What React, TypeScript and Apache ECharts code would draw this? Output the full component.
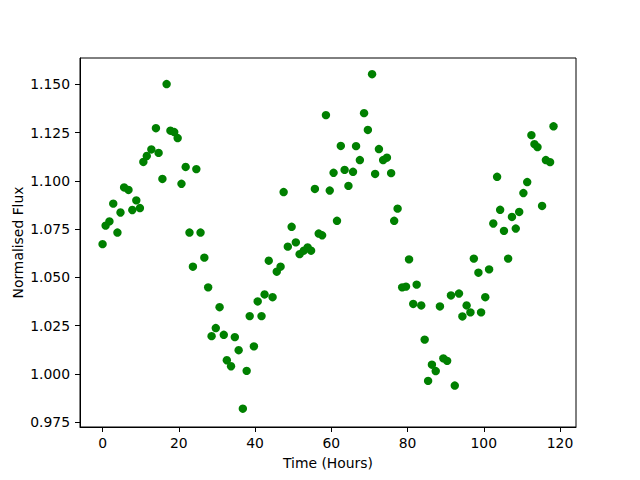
import React, { useEffect, useRef } from "react";
import * as echarts from "echarts";

const timeHours: number[] = [
  0.0, 0.8, 1.8, 2.8, 3.9, 4.7, 5.65, 6.8, 7.8, 8.85, 9.8, 10.7, 11.6, 12.8, 14.0, 14.7, 15.7, 16.8, 17.8, 18.8,
  19.7, 20.7, 21.8, 22.8, 23.7, 24.6, 25.7, 26.7, 27.7, 28.6, 29.7, 30.7, 31.8, 32.6, 33.7, 34.7, 35.7, 36.8, 37.8, 38.6,
  39.7, 40.7, 41.7, 42.5, 43.6, 44.6, 45.7, 46.7, 47.5, 48.6, 49.6, 50.7, 51.7, 52.8, 53.8, 54.7, 55.7, 56.7, 57.6, 58.6,
  59.6, 60.6, 61.5, 62.5, 63.5, 64.5, 65.7, 66.5, 67.5, 68.6, 69.6, 70.7, 71.5, 72.5, 73.6, 74.6, 75.7, 76.5, 77.4, 78.6,
  79.6, 80.4, 81.5, 82.4, 83.6, 84.5, 85.4, 86.4, 87.4, 88.5, 89.4, 90.4, 91.4, 92.4, 93.5, 94.4, 95.5, 96.5, 97.4, 98.6,
  99.3, 100.4, 101.4, 102.5, 103.5, 104.3, 105.3, 106.4, 107.4, 108.4, 109.3, 110.4, 111.4, 112.5, 113.3, 114.1, 115.3,
  116.3, 117.4, 118.3,
];

const normalisedFlux: number[] = [
  1.0672, 1.0768, 1.079, 1.0882, 1.0732, 1.0836, 1.0966, 1.0953, 1.0849, 1.0899, 1.0859, 1.1098, 1.1129, 1.1163, 1.1273,
  1.1145, 1.101, 1.1502, 1.126, 1.1253, 1.1222, 1.0985, 1.1072, 1.0732, 1.0555, 1.1061, 1.0732, 1.0602, 1.0448, 1.0195,
  1.0237, 1.0345, 1.0202, 1.007, 1.0039, 1.019, 1.0122, 0.9819, 1.0015, 1.0299, 1.0142, 1.0375, 1.0299, 1.0411, 1.0586,
  1.0397, 1.0529, 1.0555, 1.0942, 1.0659, 1.0762, 1.0681, 1.062, 1.0638, 1.0655, 1.0638, 1.0958, 1.0727, 1.0718, 1.1341,
  1.095, 1.1042, 1.0793, 1.1181, 1.1057, 1.0974, 1.1047, 1.118, 1.1108, 1.1351, 1.1264, 1.1553, 1.1036, 1.1165, 1.1108,
  1.112, 1.104, 1.0793, 1.0856, 1.0448, 1.0452, 1.0593, 1.0362, 1.0462, 1.0354, 1.0177, 0.9963, 1.0047, 1.0014, 1.0349,
  1.008, 1.0067, 1.0406, 0.9939, 1.0416, 1.0297, 1.0354, 1.0318, 1.0597, 1.0524, 1.0318, 1.0397, 1.0541, 1.0779, 1.1021,
  1.085, 1.0741, 1.0597, 1.0813, 1.0753, 1.0839, 1.0937, 1.0994, 1.1237, 1.119, 1.1175, 1.087, 1.1108, 1.1097, 1.1283,
];

const xTicks: number[] = [0, 20, 40, 60, 80, 100, 120];
const yTicks: number[] = [0.975, 1.0, 1.025, 1.05, 1.075, 1.1, 1.125, 1.15];

const FONT = "DejaVu Sans";

export default function App() {
  const ref = useRef<HTMLDivElement>(null);

  useEffect(() => {
    if (!ref.current) return;
    const chart = echarts.init(ref.current, undefined, { renderer: "svg" });
    const data = timeHours.map((t, i) => [t, normalisedFlux[i]]);
    const xMin = -5.92;
    const xMax = 124.2;
    const yMin = 0.9724;
    const yMax = 1.1637;
    chart.setOption({
      animation: false,
      backgroundColor: "#ffffff",
      grid: {
        left: 80,
        right: 64,
        top: 58,
        bottom: 53,
        show: true,
        borderColor: "#000000",
        borderWidth: 1,
        backgroundColor: "transparent",
        containLabel: false,
        outerBoundsMode: "none",
      },
      xAxis: {
        type: "value",
        min: xMin,
        max: xMax,
        name: "Time (Hours)",
        nameLocation: "middle",
        nameGap: 29,
        nameMoveOverlap: false,
        nameTextStyle: { fontFamily: FONT, fontSize: 13.9, color: "#000" },
        axisLine: { show: true, onZero: false, lineStyle: { color: "#000", width: 1 } },
        axisTick: { show: true, length: 5, lineStyle: { color: "#000", width: 1 }, customValues: xTicks },
        axisLabel: {
          fontFamily: FONT,
          fontSize: 13.9,
          color: "#000",
          margin: 9,
          customValues: xTicks,
          formatter: (v: number) => String(v),
        },
        splitLine: { show: false },
      },
      yAxis: {
        type: "value",
        min: yMin,
        max: yMax,
        name: "Normalised Flux",
        nameLocation: "middle",
        nameGap: 55,
        nameMoveOverlap: false,
        nameTextStyle: { fontFamily: FONT, fontSize: 13.9, color: "#000" },
        axisLine: { show: true, onZero: false, lineStyle: { color: "#000", width: 1 } },
        axisTick: { show: true, length: 5, lineStyle: { color: "#000", width: 1 }, customValues: yTicks },
        axisLabel: {
          fontFamily: FONT,
          fontSize: 13.9,
          color: "#000",
          margin: 10,
          customValues: yTicks,
          formatter: (v: number) => v.toFixed(3),
        },
        splitLine: { show: false },
      },
      series: [
        {
          type: "scatter",
          data,
          symbol: "circle",
          symbolSize: 8.4,
          itemStyle: { color: "#008000", opacity: 1 },
          emphasis: { disabled: true },
        },
      ],
    });
    return () => chart.dispose();
  }, []);

  return (
    <div
      ref={ref}
      style={{ position: "fixed", left: 0, top: 0, width: 640, height: 480, background: "#fff" }}
    />
  );
}
